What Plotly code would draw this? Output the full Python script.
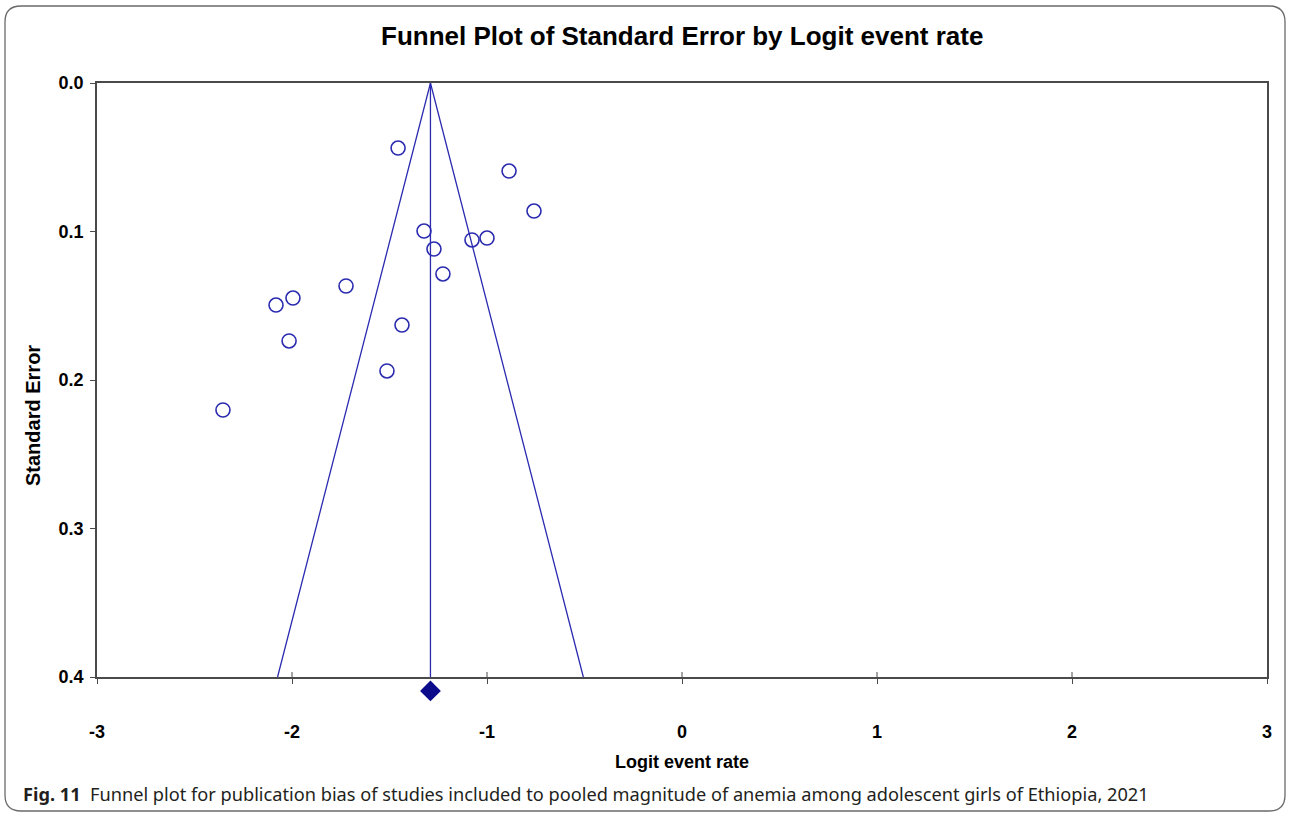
import plotly.graph_objects as go

# Study-level estimates (logit event rate) and their standard errors
logit_rate = [-1.456, -0.887, -0.759, -1.323, -1.272, -1.077, -1.000, -1.226,
              -1.723, -1.995, -2.082, -1.436, -2.015, -1.513, -2.354]
std_error = [0.0438, 0.0593, 0.0862, 0.0997, 0.1118, 0.1057, 0.1044, 0.1286,
             0.1367, 0.1448, 0.1495, 0.1630, 0.1737, 0.1939, 0.2202]

# Pooled estimate and funnel limits (95%)
pooled = -1.29
se_max = 0.40
z = 1.96
diamond_se = 0.4094

x_ticks = [-3, -2, -1, 0, 1, 2, 3]
y_ticks = [0.0, 0.1, 0.2, 0.3, 0.4]

W, H = 1290, 815
ML, MR, MT, MB = 97, 23, 83, 115
PW, PH = W - ML - MR, H - MT - MB
AXIS_BOTTOM = 677                      # pixel row of the main plot's bottom edge
MAIN_H = AXIS_BOTTOM - MT
strip = (H - MB - AXIS_BOTTOM) / PH    # domain fraction of the strip under the axis

def px(xp):
    return (xp - ML) / PW

def py(yp):
    return (H - MB - yp) / PH

blue = "#2b2bb0"
navy = "#0b0b8c"
frame = "#4a4a4a"
arial = "Liberation Sans, Arial"

fig = go.Figure()

# Funnel outline
fig.add_trace(go.Scatter(
    x=[pooled - z * se_max, pooled, pooled + z * se_max],
    y=[se_max, 0.0, se_max],
    mode="lines", line=dict(color=blue, width=1.3),
    hoverinfo="skip", showlegend=False))

# Pooled effect line
fig.add_trace(go.Scatter(
    x=[pooled, pooled], y=[0.0, se_max],
    mode="lines", line=dict(color=blue, width=1.3),
    hoverinfo="skip", showlegend=False))

# Individual studies
fig.add_trace(go.Scatter(
    x=logit_rate, y=std_error, mode="markers",
    marker=dict(symbol="circle-open", size=14, color=blue, line=dict(width=1.6)),
    showlegend=False))

# Pooled estimate diamond, in a thin strip just below the axis
fig.add_trace(go.Scatter(
    x=[pooled], y=[diamond_se], mode="markers", yaxis="y2",
    marker=dict(symbol="diamond", size=16, color=navy),
    cliponaxis=False, showlegend=False))

tick_font = dict(family=arial, size=18, color="black")
se_per_px = se_max / MAIN_H

fig.update_layout(
    width=W, height=H,
    margin=dict(l=ML, r=MR, t=MT, b=MB),
    paper_bgcolor="white", plot_bgcolor="white",
    xaxis=dict(range=[-3, 3], tickvals=x_ticks, anchor="y",
               ticktext=["<b>%d</b>" % v for v in x_ticks],
               ticks="outside", ticklen=5, tickcolor=frame, tickwidth=1,
               ticklabelstandoff=33,
               showgrid=False, zeroline=False,
               showline=True, linecolor=frame, linewidth=1.5, mirror=True,
               tickfont=tick_font),
    yaxis=dict(range=[se_max, 0.0], tickvals=y_ticks, domain=[strip, 1],
               ticktext=["<b>%.1f</b>" % v for v in y_ticks],
               ticks="outside", ticklen=5, tickcolor=frame, tickwidth=1,
               ticklabelstandoff=3,
               showgrid=False, zeroline=False,
               showline=True, linecolor=frame, linewidth=1.5, mirror=True,
               tickfont=tick_font),
    yaxis2=dict(domain=[0, strip], anchor="x", visible=False,
                range=[se_max + (H - MB - AXIS_BOTTOM) * se_per_px, se_max]),
)

# Inner half of the x ticks (ticks cross the axis line)
for v in x_ticks[1:-1]:
    fig.add_shape(type="line", xref="x", yref="y domain",
                  x0=v, x1=v, y0=0, y1=5 / MAIN_H,
                  line=dict(color=frame, width=1))

fig.add_annotation(
    text="<b>Funnel Plot of Standard Error by Logit event rate</b>",
    xref="paper", yref="paper", x=px(682), y=py(36),
    xanchor="center", yanchor="middle",
    showarrow=False, font=dict(family=arial, size=26, color="black"))

fig.add_annotation(
    text="<b>Logit event rate</b>",
    xref="paper", yref="paper", x=px(682), y=py(762),
    xanchor="center", yanchor="middle",
    showarrow=False, font=dict(family=arial, size=18, color="black"))

fig.add_annotation(
    text="<b>Standard Error</b>",
    xref="paper", yref="paper", x=px(33), y=py(416), textangle=-90,
    xanchor="center", yanchor="middle",
    showarrow=False, font=dict(family=arial, size=20, color="black"))

fig.add_annotation(
    text="<b>Fig. 11</b>  Funnel plot for publication bias of studies included to pooled "
         "magnitude of anemia among adolescent girls of Ethiopia, 2021",
    xref="paper", yref="paper", x=px(21), y=py(794),
    xanchor="left", yanchor="middle",
    showarrow=False, font=dict(family="Noto Sans", size=18.2, color="#231f20"))

# Rounded outer border
x0, x1, y0, y1, r = 5, 1285, 6, 811, 16
path = (f"M {px(x0 + r)},{py(y0)} L {px(x1 - r)},{py(y0)} "
        f"Q {px(x1)},{py(y0)} {px(x1)},{py(y0 + r)} "
        f"L {px(x1)},{py(y1 - r)} Q {px(x1)},{py(y1)} {px(x1 - r)},{py(y1)} "
        f"L {px(x0 + r)},{py(y1)} Q {px(x0)},{py(y1)} {px(x0)},{py(y1 - r)} "
        f"L {px(x0)},{py(y0 + r)} Q {px(x0)},{py(y0)} {px(x0 + r)},{py(y0)} Z")
fig.add_shape(type="path", path=path, xref="paper", yref="paper",
              line=dict(color="#6a6a6a", width=1.3), layer="below")

fig.write_html("out.html")
